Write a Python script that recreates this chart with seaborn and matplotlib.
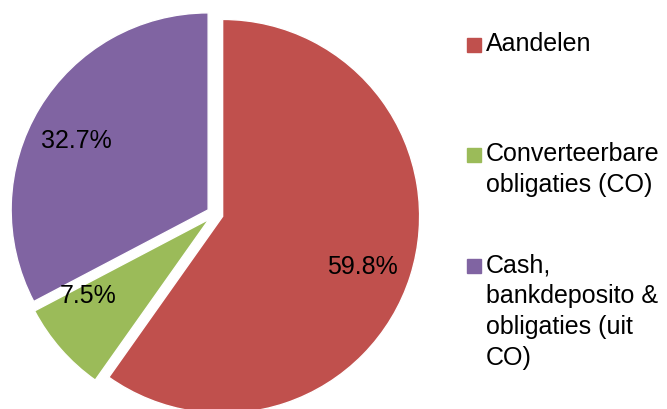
import matplotlib
matplotlib.use("Agg")
import matplotlib.pyplot as plt
import seaborn as sns
from matplotlib.patches import Rectangle

categories = ["Aandelen", "Converteerbare\nobligaties (CO)", "Cash,\nbankdeposito &\nobligaties (uit\nCO)"]
values = [59.8, 7.5, 32.7]
colors = ["#C0504D", "#9BBB59", "#8064A2"]

sns.set_theme(style="white")
plt.rcParams['font.family'] = ['Liberation Sans', 'DejaVu Sans']

W, H = 667, 409
fig = plt.figure(figsize=(W / 100, H / 100), dpi=100)
cx, cy, R = 215, 214, 197
half = 202
ax = fig.add_axes([(cx - half) / W, (H - cy - half) / H, 2 * half / W, 2 * half / H])
lim = half / R

pal = sns.color_palette(colors)
wedges, texts, autotexts = ax.pie(values, colors=pal, startangle=90, counterclock=False,
                                  explode=[8 / R] * 3, radius=1, autopct='%1.1f%%',
                                  pctdistance=0.78, textprops=dict(fontsize=18, color='black'),
                                  frame=False)
# label placement (as in the original Excel chart)
label_pos = [(0.746, -0.269), (-0.645, -0.416), (-0.706, 0.371)]
for t, p in zip(autotexts, label_pos):
    t.set_position(p)
ax.set_xlim(-lim, lim)
ax.set_ylim(-lim, lim)
ax.set_aspect('equal')
ax.axis('off')

# legend
line_centers = [45, 155, 266]
for lab, col, yc in zip(categories, colors, line_centers):
    fig.add_artist(Rectangle(((467) / W, (H - yc - 7) / H), 14 / W, 14 / H,
                             transform=fig.transFigure, color=col))
    fig.text(486 / W, (H - yc + 13) / H, lab, fontsize=18, va='top', ha='left',
             color='black', linespacing=1.36)

fig.savefig("out.png", dpi=100)
